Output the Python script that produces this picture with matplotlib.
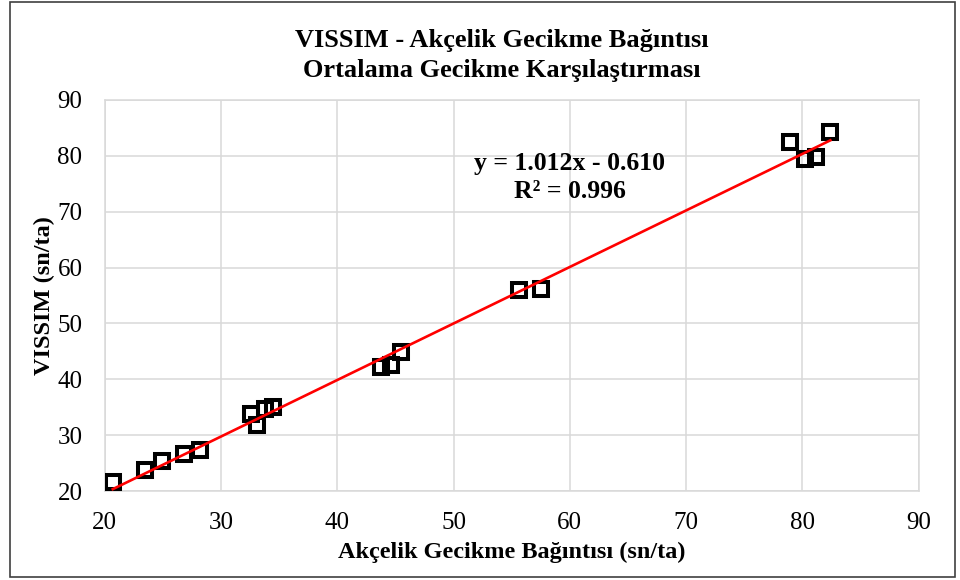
import matplotlib.pyplot as plt
from matplotlib.patches import Rectangle
import numpy as np

plt.rcParams['font.family'] = ['Liberation Serif', 'DejaVu Serif']

# ---- data ----
akcelik = [20.7, 23.5, 24.9, 26.8, 28.2,
           32.6, 33.1, 33.8, 34.5,
           43.8, 44.6, 45.5,
           55.6, 57.5,
           78.9, 80.2, 81.2, 82.4]
vissim = [21.6, 23.8, 25.4, 26.6, 27.4,
          33.8, 31.9, 34.6, 35.0,
          42.2, 42.5, 44.8,
          56.0, 56.1,
          82.4, 79.5, 79.8, 84.2]
slope, intercept, r2 = 1.012, -0.610, 0.996

fig = plt.figure(figsize=(9.6, 5.8), dpi=100)
ax = fig.add_axes([0.109, 0.1534, 0.848, 0.6742])

ax.plot(akcelik, vissim, linestyle='none', marker='s', markersize=10.5,
        markerfacecolor='none', markeredgecolor='black', markeredgewidth=2.9,
        zorder=3)
xs = np.array([min(akcelik), max(akcelik)])
ax.plot(xs, slope * xs + intercept, color='#ff0000', linewidth=1.9, zorder=4)

ax.set_xlim(20, 90); ax.set_ylim(20, 90)
ax.set_xticks(range(20, 91, 10)); ax.set_yticks(range(20, 91, 10))
ax.grid(color='#d9d9d9', linewidth=1.1)
ax.set_axisbelow(True)
for s in ax.spines.values():
    s.set_color('#d9d9d9'); s.set_linewidth(1.1)
ax.tick_params(length=0, labelsize=18)
ax.tick_params(axis='x', pad=15)
ax.tick_params(axis='y', pad=16)

ax.text(60.0, 76.1, f'y = {slope:.3f}x - {abs(intercept):.3f}\nR² = {r2:.3f}',
        ha='center', va='center', fontsize=18.5, fontweight='bold',
        linespacing=1.3)

fig.text(0.523, 0.905, 'VISSIM - Akçelik Gecikme Bağıntısı\nOrtalama Gecikme Karşılaştırması',
         ha='center', va='center', fontsize=19, fontweight='bold', linespacing=1.38)
ax.set_xlabel('Akçelik Gecikme Bağıntısı (sn/ta)', fontsize=17.5, fontweight='bold', labelpad=6)
ax.set_ylabel('VISSIM (sn/ta)', fontsize=17.5, fontweight='bold', labelpad=2)

fig.patches.append(Rectangle((0.01, 0.006), 0.985, 0.99, transform=fig.transFigure,
                             fill=False, edgecolor='#404040', linewidth=1.2))

fig.savefig('out.png', dpi=100)
